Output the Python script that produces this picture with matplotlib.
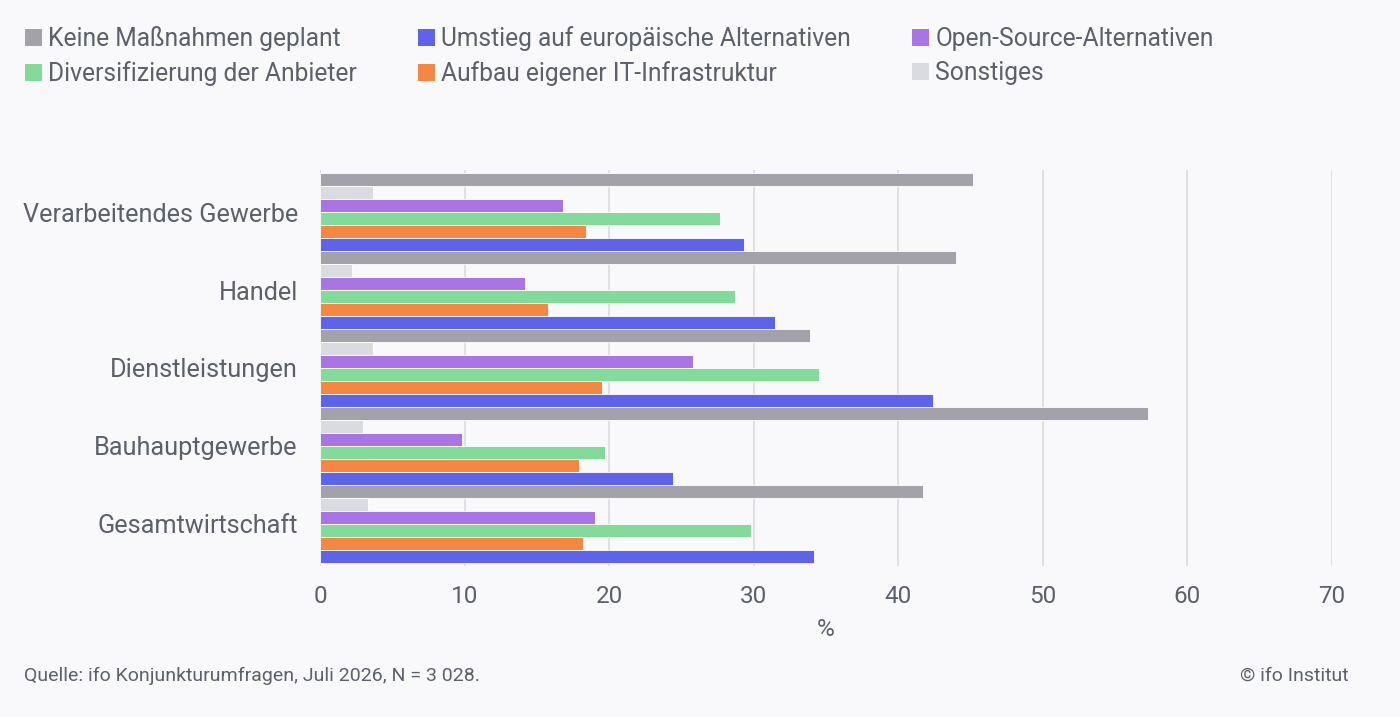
import matplotlib.pyplot as plt
import numpy as np
from matplotlib.patches import Patch

plt.rcParams['font.family'] = ['Roboto', 'DejaVu Sans']

# ------------------------------ data
categories = ["Verarbeitendes Gewerbe", "Handel", "Dienstleistungen",
              "Bauhauptgewerbe", "Gesamtwirtschaft"]

keine = [45.2, 44.0, 33.9, 57.3, 41.7]
sonstiges = [3.7, 2.2, 3.7, 3.0, 3.3]
open_source = [16.8, 14.2, 25.8, 9.8, 19.0]
diversifizierung = [27.7, 28.7, 34.5, 19.7, 29.8]
aufbau = [18.4, 15.8, 19.5, 17.9, 18.2]
umstieg = [29.3, 31.5, 42.4, 24.4, 34.2]

xticks = [0, 10, 20, 30, 40, 50, 60, 70]
# ------------------------------

bg = "#f9f9fb"
txt = "#5b606b"
grid_c = "#d9dbe1"

# top to bottom inside each group
series = [
    ("Keine Maßnahmen geplant", keine, "#a3a2ab"),
    ("Sonstiges", sonstiges, "#d9dbe1"),
    ("Open-Source-Alternativen", open_source, "#a875e3"),
    ("Diversifizierung der Anbieter", diversifizierung, "#84da9a"),
    ("Aufbau eigener IT-Infrastruktur", aufbau, "#f38744"),
    ("Umstieg auf europäische Alternativen", umstieg, "#5f63e8"),
]

fig = plt.figure(figsize=(14, 7.17), dpi=100, facecolor=bg)
ax = fig.add_axes([320 / 1400, 1 - 566 / 717, (1332 - 320) / 1400, 396 / 717])
ax.set_facecolor(bg)

y = np.arange(len(categories))
h = 1 / 6
for j, (name, vals, col) in enumerate(series):
    ax.barh(y + (j - 2.5) * h, vals, height=h, color=col,
            edgecolor="white", linewidth=0.6, zorder=3)

ax.set_xlim(0, 70)
ax.set_ylim(4.5 + 0.04, -0.5 - 0.04)
ax.set_xticks(xticks)
ax.set_yticks(y)
ax.set_yticklabels(categories)
ax.grid(axis="x", color=grid_c, linewidth=1.2, zorder=0)
for s in ax.spines.values():
    s.set_visible(False)
ax.tick_params(axis="x", length=0, pad=14, labelsize=17.5, labelcolor=txt)
ax.tick_params(axis="y", length=0, pad=16, labelsize=18.2, labelcolor=txt)
ax.set_xlabel("%", fontsize=17.5, color=txt, labelpad=7)

# legend
order = [0, 3, 5, 4, 2, 1]
handles = [Patch(facecolor=series[i][2], edgecolor="none") for i in order]
labels = [series[i][0] for i in order]
fig.legend(handles, labels, ncol=3, loc="upper left",
           bbox_to_anchor=(15 / 1400, 1 - 16 / 717), frameon=False,
           fontsize=17.7, labelcolor=txt, handlelength=0.7, handleheight=0.7,
           handletextpad=0.25, columnspacing=2.48, labelspacing=0.42,
           borderaxespad=0)

fig.text(24 / 1400, 1 - 676 / 717, "Quelle: ifo Konjunkturumfragen, Juli 2026, N = 3 028.",
         fontsize=14, color=txt, va="center", ha="left")
fig.text(1349 / 1400, 1 - 676 / 717, "© ifo Institut",
         fontsize=14, color=txt, va="center", ha="right")

fig.savefig("out.png", dpi=100, facecolor=bg)
